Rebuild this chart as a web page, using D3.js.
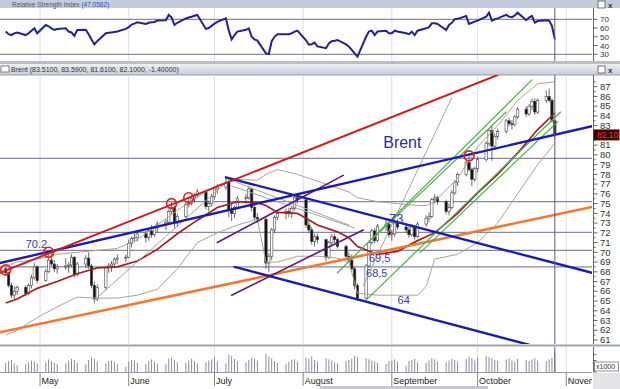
<!DOCTYPE html>
<html lang="en">
<head>
<meta charset="UTF-8">
<title>Brent</title>
<script src="https://d3js.org/d3.v7.min.js"></script>
<style>
  body { margin: 0; background: #fff; }
  svg { display: block; font-family: "Liberation Sans", Arial, sans-serif; }
</style>
</head>
<body>
<div id="chart"></div>
<script>
// trading days from the first to the last bar (weekdays)
var firstDay = "04-19", lastDay = "10-28";

// daily bars, one row of values per month (Apr, May, Jun, Jul, Aug, Sep, Oct)
var openP = [
  68.3, 67.9, 66.6, 65.6, 66.0, 66.4, 65.8, 66.6, 67.4, 68.5,
  67.1, 68.0, 69.2, 68.8, 68.3, 68.5, 68.6, 68.7, 69.5, 67.7, 68.8, 69.4, 68.6, 66.6, 65.2, 66.4, 68.4, 68.6, 68.8, 69.3, 69.4,
  69.5, 70.9, 71.4, 71.5, 71.9, 71.5, 72.2, 71.8, 72.5, 72.9, 73.1, 74.2, 74.6, 73.0, 73.7, 74.9, 75.0, 75.5, 75.8, 76.2, 74.7, 75.0,
  75.7, 76.5, 76.7, 77.2, 74.3, 74.0, 74.6, 75.5, 75.6, 76.5, 74.6, 73.6, 73.4, 68.9, 69.6, 72.3, 73.6, 74.0, 74.2, 74.0, 74.5, 75.6,
  75.4, 72.8, 72.3, 71.1, 71.6, 71.3, 69.5, 71.0, 71.6, 71.3, 70.6, 69.6, 69.2, 68.3, 66.6, 65.3, 68.6, 71.0, 72.2, 71.2, 72.7, 72.9,
  71.8, 71.9, 73.0, 72.6, 72.3, 71.8, 72.6, 71.6, 72.9, 73.5, 73.7, 75.4, 75.6, 75.2, 74.2, 74.6, 76.1, 77.2, 78.0, 79.2, 78.5, 77.5,
  78.6, 79.5, 81.2, 82.5, 80.9, 81.9, 82.4, 83.5, 83.2, 83.1, 83.9, 84.7, 84.2, 85.0, 85.5, 84.4, 85.6, 86.0, 85.6, 83.51
];
var highP = [
  68.5, 68.0, 66.9, 66.5, 66.6, 66.6, 66.8, 67.7, 68.9, 68.7,
  68.3, 69.8, 69.9, 69.2, 68.8, 69.4, 69.0, 69.8, 69.6, 69.0, 69.7, 70.0, 68.8, 67.0, 66.7, 68.6, 68.9, 69.1, 69.5, 69.8, 69.8,
  71.3, 71.6, 72.0, 72.1, 72.2, 72.4, 72.8, 72.7, 73.2, 73.4, 74.4, 75.2, 74.8, 74.0, 75.1, 75.7, 75.9, 76.1, 76.5, 76.4, 75.3, 76.0,
  76.8, 77.0, 77.6, 77.5, 75.0, 74.8, 75.8, 76.0, 76.8, 76.6, 74.9, 74.0, 73.6, 69.9, 72.5, 73.8, 74.2, 74.5, 74.6, 74.8, 75.9, 76.0,
  75.6, 73.2, 72.6, 71.9, 71.9, 71.4, 71.2, 71.9, 71.9, 71.5, 70.8, 70.0, 69.8, 68.5, 66.8, 68.8, 71.2, 72.4, 72.5, 72.9, 73.4, 73.1,
  72.3, 73.3, 73.4, 73.0, 72.8, 72.9, 72.8, 73.1, 73.8, 74.1, 75.6, 76.0, 75.8, 75.4, 75.0, 76.4, 77.4, 78.2, 79.4, 80.2, 78.7, 78.8,
  79.8, 81.4, 82.7, 83.0, 82.2, 82.7, 83.7, 83.8, 83.6, 84.1, 84.9, 85.0, 85.2, 85.8, 85.8, 85.8, 86.6, 86.8, 85.8, 83.59
];
var lowP = [
  67.6, 66.4, 65.3, 65.2, 65.6, 65.5, 65.6, 66.3, 67.2, 66.8,
  67.0, 67.9, 68.6, 68.0, 67.8, 68.2, 67.9, 68.5, 67.4, 67.5, 68.4, 68.3, 66.3, 64.8, 65.0, 66.1, 67.9, 68.0, 68.4, 68.8, 69.0,
  69.4, 70.5, 71.0, 71.1, 71.0, 71.2, 71.5, 71.6, 72.0, 72.3, 72.9, 73.9, 72.4, 72.6, 73.5, 74.6, 74.8, 75.1, 75.6, 74.4, 74.2, 74.7,
  75.4, 76.0, 76.4, 73.6, 73.2, 73.5, 74.4, 75.0, 75.4, 74.2, 73.3, 73.0, 68.3, 68.0, 69.2, 72.0, 73.3, 73.4, 73.6, 73.5, 74.3, 75.0,
  72.5, 72.0, 70.8, 70.6, 70.9, 69.1, 69.3, 70.7, 70.9, 70.4, 69.3, 68.9, 68.0, 66.2, 65.0, 65.2, 68.4, 70.8, 70.9, 71.0, 72.2, 71.5,
  71.2, 71.6, 72.3, 72.0, 71.5, 71.6, 71.3, 71.5, 72.6, 73.1, 73.5, 75.0, 74.9, 73.9, 73.8, 74.4, 75.9, 76.8, 77.8, 78.3, 76.8, 77.2,
  78.2, 79.3, 80.9, 79.4, 80.5, 81.6, 82.2, 82.9, 82.6, 82.9, 83.7, 83.9, 84.0, 84.6, 84.1, 84.2, 85.3, 85.4, 83.3, 81.61
];
var closeP = [
  67.9, 66.6, 65.6, 66.0, 66.4, 65.8, 66.6, 67.4, 68.5, 67.1,
  68.0, 69.2, 68.8, 68.3, 68.5, 68.6, 68.7, 69.5, 67.7, 68.8, 69.4, 68.6, 66.6, 65.2, 66.4, 68.4, 68.6, 68.8, 69.3, 69.4, 69.5,
  70.9, 71.4, 71.5, 71.9, 71.5, 72.2, 71.8, 72.5, 72.9, 73.1, 74.2, 74.6, 73.0, 73.7, 74.9, 75.0, 75.5, 75.8, 76.2, 74.7, 75.0, 75.7,
  76.5, 76.7, 77.2, 74.3, 74.0, 74.6, 75.5, 75.6, 76.5, 74.6, 73.6, 73.4, 68.9, 69.6, 72.3, 73.6, 74.0, 74.2, 74.0, 74.5, 75.6, 75.4,
  72.8, 72.3, 71.1, 71.6, 71.3, 69.5, 71.0, 71.6, 71.3, 70.6, 69.6, 69.2, 68.3, 66.6, 65.3, 68.6, 71.0, 72.2, 71.2, 72.7, 72.9, 71.8,
  71.9, 73.0, 72.6, 72.3, 71.8, 72.6, 71.6, 72.9, 73.5, 73.7, 75.4, 75.6, 75.2, 74.2, 74.6, 76.1, 77.2, 78.0, 79.2, 78.5, 77.5, 78.6,
  79.5, 81.2, 82.5, 80.9, 81.9, 82.4, 83.5, 83.2, 83.1, 83.9, 84.7, 84.2, 85.0, 85.5, 84.4, 85.6, 86.0, 85.6, 83.5, 82.1
];
var volume = [
  160, 190, 210, 150, 120, 140, 170, 200, 180, 150,
  170, 220, 190, 160, 140, 150, 200, 230, 210, 160, 130, 210, 250, 230, 180, 150, 190, 200, 170, 140, 90,
  180, 210, 200, 160, 140, 190, 220, 180, 150, 140, 230, 250, 210, 170, 160, 200, 230, 190, 150, 170, 200, 220,
  260, 180, 150, 300, 280, 230, 190, 170, 210, 250, 230, 200, 320, 270, 240, 190, 160, 140, 180, 210, 220, 180,
  250, 230, 270, 210, 180, 240, 220, 200, 170, 150, 190, 210, 230, 280, 260, 240, 220, 200, 180, 160, 140, 190,
  200, 220, 180, 110, 190, 210, 230, 170, 160, 200, 240, 220, 180, 170, 200, 230, 210, 180, 230, 260, 240, 200,
  250, 280, 260, 240, 210, 190, 220, 240, 200, 180, 230, 210, 190, 220, 240, 200, 190, 220, 250, 330
];
var rsi = [
  56, 53, 52, 54, 55, 52, 54, 57, 59.7, 54,
  63.5, 62, 59.7, 58, 59, 59.7, 56, 55, 51, 57.8, 58, 53, 47, 41.4, 45, 54, 54.5, 55, 55.5, 56, 59,
  61, 64, 65, 66.6, 64.7, 66, 66.6, 67, 68.5, 69, 75, 72, 63.5, 66, 71, 72, 73, 74, 75, 59, 60, 62.5,
  65, 67, 71, 57, 47, 52, 56, 58, 59.7, 50, 47, 45.6, 31, 30.3, 45, 50, 52.9, 52.9, 53, 54, 56, 57,
  46, 41, 41.5, 43.3, 39, 37, 42.5, 45, 45.6, 46.4, 41.4, 38.8, 35, 31, 27.3, 50, 55.9, 57, 52, 56, 57, 54,
  54, 57, 56, 54, 53, 55.9, 52, 57, 59.7, 61, 65.4, 65.5, 64.7, 57.8, 63.5, 66, 70, 70.5, 73.8, 64.7, 66, 67.3,
  68.5, 73, 77.6, 68.5, 70, 71, 75, 73, 72.3, 74.5, 77.6, 69, 72, 73.8, 66.2, 68, 69, 68.5, 62.4, 47.06
];

// Bollinger bands read at these dates
var bandDates = ["04-19", "04-23", "04-30", "05-07", "05-14", "05-21", "05-28", "06-04", "06-11", "06-18",
  "06-25", "07-02", "07-09", "07-16", "07-19", "07-23", "07-30", "08-06", "08-13", "08-17", "08-20",
  "08-27", "09-03", "09-10", "09-13", "09-16", "09-24", "10-01", "10-08", "10-15", "10-22", "10-28"];
var bandUpper = [68.6, 69.0, 69.3, 69.8, 70.0, 70.2, 70.4, 71.3, 72.8, 74.3,
  75.7, 76.9, 77.5, 77.4, 78.0, 78.5, 78.0, 77.3, 76.6, 76.2, 75.6,
  75.2, 75.0, 74.8, 74.8, 75.2, 77.6, 80.8, 83.0, 85.6, 87.3, 87.5];
var bandMiddle = [64.8, 65.2, 66.3, 67.0, 67.8, 68.4, 68.5, 69.1, 70.3, 71.9,
  73.3, 74.6, 75.2, 75.1, 74.8, 74.1, 74.0, 72.8, 72.1, 71.5, 70.6,
  69.8, 70.1, 71.2, 71.6, 72.0, 74.0, 76.1, 78.0, 80.2, 82.6, 84.3];
var bandLower = [61.5, 62.0, 63.3, 64.4, 65.4, 65.3, 65.3, 65.6, 66.2, 68.3,
  71.0, 72.0, 72.8, 73.4, 69.0, 69.0, 69.6, 69.6, 69.4, 69.0, 65.8,
  65.6, 65.6, 65.6, 66.5, 69.3, 69.8, 71.0, 73.0, 76.0, 79.0, 81.2];

// drawn trend lines: [start, end] as [date, price]
var redLines = [[["04-17", 67.9], ["10-08", 88.2]]];
var blueLines = [
  [["04-17", 68.9], ["11-10", 82.95]],
  [["07-05", 77.7], ["11-10", 67.9]],
  [["07-08", 68.5], ["11-10", 58.8]]
];
var orangeLines = [[["04-17", 61.8], ["11-10", 74.65]]];
var purpleLines = [
  [["07-02", 71.0], ["08-15", 77.9]],
  [["07-07", 65.6], ["08-22", 72.3]]
];
var greenLines = [
  [["08-13", 67.9], ["10-20", 87.7]],
  [["08-25", 71.3], ["10-11", 84.4]],
  [["08-23", 65.1], ["10-30", 84.4]],
  [["09-11", 70.0], ["10-29", 83.4]]
];
var grayLines = [
  [["05-20", 65.1], ["07-06", 77.4]],
  [["07-05", 77.6], ["08-17", 72.8]],
  [["07-07", 76.8], ["08-19", 72.5]],
  [["08-22", 66.6], ["09-22", 85.9]]
];
var levels = [79.65, 75.2, 72.05, 70.2, 68.5];
var touches = [["04-19", 68.2], ["05-04", 70.0], ["06-16", 75.0], ["06-22", 75.6], ["09-28", 79.9]];
var notes = [["70.2", "04-26", 70.45], ["73", "08-31", 73.0], ["69,5", "08-24", 69.0],
  ["68,5", "08-23", 67.45], ["64", "09-03", 64.7]];
var title = ["Brent", "08-29", 80.7];

var priceTicks = d3.range(61, 88);
var rsiTicks = [30, 40, 50, 60, 70];
var rsiLevels = [30, 70];

var parse = d3.timeParse("%Y-%m-%d");
function day(s) { return parse("2021-" + s); }

var tradingDays = d3.timeDay.range(day(firstDay), d3.timeDay.offset(day(lastDay), 1))
  .filter(function (d) { return d.getDay() !== 0 && d.getDay() !== 6; });

var bars = tradingDays.map(function (d, i) {
  return { date: d, o: openP[i], h: highP[i], l: lowP[i], c: closeP[i], v: volume[i], r: rsi[i] };
});

var width = 620, height = 389, plotRight = 592;

var x = d3.scaleTime().domain([day("04-17"), day("11-10")]).range([0, plotRight]);
var y = d3.scaleLinear().domain([61, 87]).range([340, 86.7]);
var yRsi = d3.scaleLinear().domain([30, 70]).range([54.3, 19.3]);
var yVol = d3.scaleLinear().domain([0, 400]).range([372, 349]);

var svg = d3.select("#chart").append("svg")
  .attr("width", width).attr("height", height);

var defs = svg.append("defs");
function clip(id, x0, y0, w, h) {
  defs.append("clipPath").attr("id", id).append("rect")
    .attr("x", x0).attr("y", y0).attr("width", w).attr("height", h);
}
clip("rsiClip", 0, 8, plotRight, 53);
clip("priceClip", 0, 75, plotRight, 269);
clip("volClip", 0, 346, plotRight, 26);
clip("monthClip", 0, 372, plotRight, 17);

var grad = defs.append("linearGradient").attr("id", "head").attr("x1", 0).attr("y1", 0).attr("x2", 0).attr("y2", 1);
grad.append("stop").attr("offset", "0%").attr("stop-color", "#eef0f4");
grad.append("stop").attr("offset", "100%").attr("stop-color", "#c6cbd6");

// panel chrome
svg.append("rect").attr("x", 0).attr("y", 0).attr("width", width).attr("height", 8).attr("fill", "#c3ccdc");
svg.append("text").attr("x", 12).attr("y", 6.5).attr("font-size", 6.5).attr("fill", "#555")
  .text("Relative Strength Index ").append("tspan").attr("fill", "#3050c0").text("(47.0582)");
svg.append("rect").attr("x", 0).attr("y", 61).attr("width", width).attr("height", 3).attr("fill", "#b9bdc8");
svg.append("rect").attr("x", 0).attr("y", 64).attr("width", width).attr("height", 11).attr("fill", "url(#head)");
svg.append("line").attr("x1", 0).attr("x2", width).attr("y1", 75).attr("y2", 75).attr("stroke", "#9aa0ae");
svg.append("rect").attr("x", 1).attr("y", 66).attr("width", 8).attr("height", 6)
  .attr("fill", "#fff").attr("stroke", "#666").attr("stroke-width", 0.8);
svg.append("text").attr("x", 11).attr("y", 72).attr("font-size", 7).attr("fill", "#333")
  .text("Brent (83.5100, 83.5900, 81.6100, 82.1000, -1.40000)");
[0, 65].forEach(function (top) {
  svg.append("rect").attr("x", 598).attr("y", top + 1).attr("width", 7).attr("height", 7)
    .attr("fill", "#fff").attr("stroke", "#555").attr("stroke-width", 0.8);
  svg.append("text").attr("x", 608).attr("y", top + 7.5).attr("font-size", 8).attr("font-weight", "bold")
    .attr("fill", "#333").text("x");
});
svg.append("line").attr("x1", 0).attr("x2", width).attr("y1", 345.5).attr("y2", 345.5).attr("stroke", "#a0a4b0").attr("stroke-width", 2);

// month gridlines
var months = d3.timeMonth.range(day("05-01"), day("11-10"));
var grid = svg.append("g").attr("stroke", "#dcdce6").attr("stroke-width", 1);
months.forEach(function (m) {
  [[8, 61], [75, 344], [347, 372]].forEach(function (r) {
    grid.append("line").attr("x1", x(m)).attr("x2", x(m)).attr("y1", r[0]).attr("y2", r[1]);
  });
});

// RSI panel
var rsiG = svg.append("g").attr("clip-path", "url(#rsiClip)");
rsiG.selectAll(".lvl").data(rsiLevels).enter().append("line")
  .attr("x1", 0).attr("x2", plotRight).attr("y1", yRsi).attr("y2", yRsi)
  .attr("stroke", "#8c8c9c").attr("stroke-width", 1.2);
rsiG.append("path").datum(bars)
  .attr("fill", "none").attr("stroke", "#23238e").attr("stroke-width", 2)
  .attr("d", d3.line().x(function (d) { return x(d.date); }).y(function (d) { return yRsi(d.r); }));

// price panel
var price = svg.append("g").attr("clip-path", "url(#priceClip)");
price.selectAll(".level").data(levels).enter().append("line")
  .attr("x1", 0).attr("x2", plotRight).attr("y1", y).attr("y2", y)
  .attr("stroke", "#8686a6").attr("stroke-width", 1.3);

price.selectAll(".wick").data(bars).enter().append("line")
  .attr("x1", function (d) { return x(d.date); }).attr("x2", function (d) { return x(d.date); })
  .attr("y1", function (d) { return y(d.h); }).attr("y2", function (d) { return y(d.l); })
  .attr("stroke", "#444").attr("stroke-width", 0.8);
price.selectAll(".body").data(bars).enter().append("rect")
  .attr("x", function (d) { return x(d.date) - 1.2; }).attr("width", 2.4)
  .attr("y", function (d) { return y(Math.max(d.o, d.c)); })
  .attr("height", function (d) { return Math.max(0.8, Math.abs(y(d.o) - y(d.c))); })
  .attr("fill", function (d) { return d.c >= d.o ? "#fff" : "#111"; })
  .attr("stroke", "#444").attr("stroke-width", 0.6);

function band(values, color, w) {
  price.append("path").datum(values)
    .attr("fill", "none").attr("stroke", color).attr("stroke-width", w)
    .attr("d", d3.line().x(function (d, i) { return x(day(bandDates[i])); }).y(function (d) { return y(d); }));
}
band(bandUpper, "#b4a090", 1);
band(bandLower, "#b4a090", 1);
band(bandMiddle, "#a81c1c", 1.7);

function drawLines(list, color, w) {
  price.selectAll(null).data(list).enter().append("line")
    .attr("x1", function (l) { return x(day(l[0][0])); }).attr("y1", function (l) { return y(l[0][1]); })
    .attr("x2", function (l) { return x(day(l[1][0])); }).attr("y2", function (l) { return y(l[1][1]); })
    .attr("stroke", color).attr("stroke-width", w).attr("stroke-linecap", "round");
}
drawLines(grayLines, "#a4a4a4", 1);
drawLines(orangeLines, "#f07a30", 2.6);
drawLines(purpleLines, "#5a1c78", 1.6);
drawLines(greenLines, "#4cb24c", 1.2);
drawLines(blueLines, "#1c1cae", 2.4);
drawLines(redLines, "#cc2020", 2);

price.selectAll(".touch").data(touches).enter().append("circle")
  .attr("cx", function (d) { return x(day(d[0])); }).attr("cy", function (d) { return y(d[1]); })
  .attr("r", 5).attr("fill", "none").attr("stroke", "#e02020").attr("stroke-width", 1.6);

price.selectAll(".note").data(notes).enter().append("text")
  .attr("x", function (d) { return x(day(d[1])); }).attr("y", function (d) { return y(d[2]); })
  .attr("font-size", function (d) { return d[0] === "73" ? 13 : 11; })
  .attr("fill", "#3a3aa6").text(function (d) { return d[0]; });
price.append("text").attr("x", x(day(title[1]))).attr("y", y(title[2]))
  .attr("font-size", 16).attr("fill", "#2c2ca8").text(title[0]);

// volume panel
var vol = svg.append("g").attr("clip-path", "url(#volClip)");
vol.selectAll(".vbar").data(bars).enter().append("line")
  .attr("x1", function (d) { return x(d.date); }).attr("x2", function (d) { return x(d.date); })
  .attr("y1", yVol(0)).attr("y2", function (d) { return yVol(d.v); })
  .attr("stroke", "#8a8aa6").attr("stroke-width", 1);

// last bar cursor
var last = tradingDays[tradingDays.length - 1];
[[8, 61], [75, 344], [347, 372]].forEach(function (r) {
  svg.append("line").attr("x1", x(last)).attr("x2", x(last)).attr("y1", r[0]).attr("y2", r[1])
    .attr("stroke", "#5c5c7c").attr("stroke-width", 1);
});

// right axes
var axisX = 593.5;
var axes = svg.append("g").attr("stroke", "#666").attr("stroke-width", 1);
[[8, 61], [75, 344], [347, 372]].forEach(function (r) {
  axes.append("line").attr("x1", axisX).attr("x2", axisX).attr("y1", r[0]).attr("y2", r[1]);
});
priceTicks.forEach(function (t) {
  axes.append("line").attr("x1", axisX).attr("x2", axisX + 4).attr("y1", y(t)).attr("y2", y(t));
  axes.append("line").attr("x1", axisX).attr("x2", axisX + 2).attr("y1", y(t + 0.5)).attr("y2", y(t + 0.5));
});
rsiTicks.forEach(function (t) {
  axes.append("line").attr("x1", axisX).attr("x2", axisX + 4).attr("y1", yRsi(t)).attr("y2", yRsi(t));
});
[0, 100, 200, 300].forEach(function (t) {
  axes.append("line").attr("x1", axisX).attr("x2", axisX + 3).attr("y1", yVol(t)).attr("y2", yVol(t));
});

// last price tag hides the tick label under it
var lastClose = closeP[closeP.length - 1];
svg.selectAll(".plab").data(priceTicks.filter(function (t) { return Math.abs(t - lastClose) > 0.5; }))
  .enter().append("text")
  .attr("x", 600).attr("y", function (d) { return y(d) + 3.2; })
  .attr("font-size", 9.5).attr("fill", "#333").text(function (d) { return d; });
svg.selectAll(".rlab").data(rsiTicks).enter().append("text")
  .attr("x", 600).attr("y", function (d) { return yRsi(d) + 3; })
  .attr("font-size", 8).attr("fill", "#333").text(function (d) { return d; });

svg.append("rect").attr("x", 594).attr("y", y(lastClose) - 4.5).attr("width", 25).attr("height", 10)
  .attr("fill", "#2a0606").attr("stroke", "#600");
svg.append("text").attr("x", 597).attr("y", y(lastClose) + 3.2).attr("font-size", 8.5)
  .attr("fill", "#ff3030").text(lastClose.toFixed(2));

svg.append("rect").attr("x", 594.5).attr("y", 362).attr("width", 24).attr("height", 9)
  .attr("fill", "#fff").attr("stroke", "#777").attr("stroke-width", 0.8);
svg.append("text").attr("x", 596).attr("y", 369).attr("font-size", 7).attr("fill", "#333").text("x1000");

// month axis
var monthG = svg.append("g").attr("clip-path", "url(#monthClip)");
months.forEach(function (m) {
  monthG.append("line").attr("x1", x(m)).attr("x2", x(m)).attr("y1", 372).attr("y2", 386)
    .attr("stroke", "#888");
  monthG.append("text").attr("x", x(m) + 1.5).attr("y", 384).attr("font-size", 9)
    .attr("fill", "#222").text(d3.timeFormat("%B")(m));
});
svg.append("line").attr("x1", 0).attr("x2", plotRight).attr("y1", 372.5).attr("y2", 372.5).attr("stroke", "#999");
svg.append("rect").attr("x", 593).attr("y", 373).attr("width", 27).attr("height", 16).attr("fill", "#e4e4e8");
svg.append("rect").attr("x", 320).attr("y", 386).attr("width", 168).attr("height", 3).attr("fill", "#c8c8d0");
</script>
</body>
</html>
